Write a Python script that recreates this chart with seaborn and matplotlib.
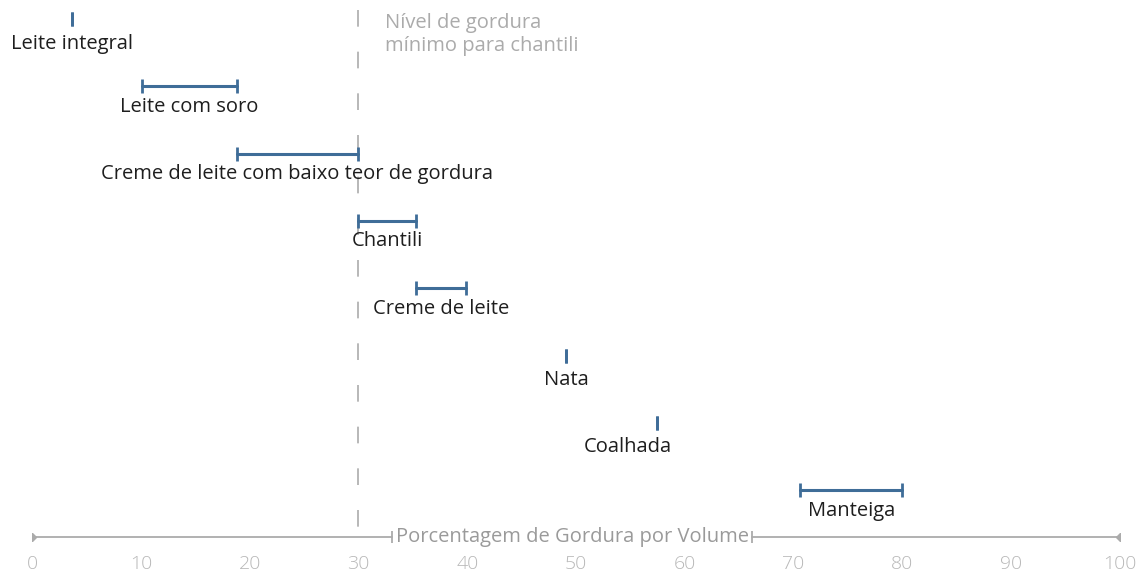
import matplotlib
matplotlib.use("Agg")
import matplotlib.pyplot as plt
import seaborn as sns
import pandas as pd

# Fat content ranges (% by volume) for each dairy product
produtos = [
    "Leite integral",
    "Leite com soro",
    "Creme de leite com baixo teor de gordura",
    "Chantili",
    "Creme de leite",
    "Nata",
    "Coalhada",
    "Manteiga",
]
gordura_min = [3.7, 10.1, 18.8, 30.0, 35.3, 49.1, 57.4, 70.6]
gordura_max = [3.7, 18.8, 30.0, 35.3, 39.9, 49.1, 57.4, 80.0]

limite_chantili = 30
rotulo_limite = "Nível de gordura\nmínimo para chantili"
titulo_eixo = "Porcentagem de Gordura por Volume"
ticks_x = [0, 10, 20, 30, 40, 50, 60, 70, 80, 90, 100]

AZUL = "#3f6d98"
CINZA = "#ababab"
TEXTO = "#1e1e1e"

sns.set_theme(style="white")
plt.rcParams["font.family"] = ["Open Sans", "DejaVu Sans"]
plt.rcParams["lines.scale_dashes"] = False

linhas = []
for i, (nome, lo, hi) in enumerate(zip(produtos, gordura_min, gordura_max)):
    linhas.append({"produto": nome, "linha": i, "gordura": lo})
    linhas.append({"produto": nome, "linha": i, "gordura": hi})
df = pd.DataFrame(linhas)

fig = plt.figure(figsize=(11.4, 5.76), dpi=100)
ax = fig.add_axes([32 / 1140, 0, 1088 / 1140, 1])

# range bars with end caps
sns.lineplot(
    data=df, x="gordura", y="linha", units="produto", estimator=None,
    sort=False, color=AZUL, linewidth=2.2, marker="|", markersize=10,
    markeredgewidth=2.0, markeredgecolor=AZUL, ax=ax, legend=False,
)

ax.set_xlim(0, 100)
passo = 67.3
topo = -19 / passo
ax.set_ylim(topo + 576 / passo, topo)
y_eixo = topo + 537 / passo

# product labels beneath each range
for i, (nome, lo, hi) in enumerate(zip(produtos, gordura_min, gordura_max)):
    cx = (lo + hi) / 2
    if nome == "Coalhada":
        cx -= 2.6
    desloc = -10.5 if lo == hi else -7.5
    ax.annotate(nome, xy=(cx, i), xytext=(0, desloc), textcoords="offset points",
                ha="center", va="top", fontsize=14.5, color=TEXTO)

# minimum fat threshold for whipping
ax.plot([limite_chantili, limite_chantili], [topo + 10 / passo, y_eixo],
        color=CINZA, linewidth=1.2, linestyle=(0, (12, 18)), zorder=0)
ax.text(limite_chantili + 2.45, topo + 13 / passo, rotulo_limite, ha="left",
        va="top", fontsize=14.5, color=CINZA, linespacing=1.2)

# custom axis line with a gap for its title
gap_lo, gap_hi = 33.1, 66.2
ax.plot([0, gap_lo], [y_eixo, y_eixo], color=CINZA, linewidth=1.3)
ax.plot([gap_hi, 100], [y_eixo, y_eixo], color=CINZA, linewidth=1.3)
ax.plot([0, 100], [y_eixo, y_eixo], linestyle="none", marker="D", markersize=4.5,
        color=CINZA)
ax.plot([gap_lo, gap_hi], [y_eixo, y_eixo], linestyle="none", marker="|",
        markersize=9, markeredgewidth=1.3, color=CINZA)
ax.text((gap_lo + gap_hi) / 2, y_eixo, titulo_eixo, ha="center", va="center",
        fontsize=14.5, color="#9a9a9a")

for t in ticks_x:
    ax.text(t, topo + 564 / passo, str(t), ha="center", va="center",
            fontsize=14, color="#b8b8b8", fontweight="light")

ax.set_xticks([])
ax.set_yticks([])
ax.set_xlabel("")
ax.set_ylabel("")
for s in ax.spines.values():
    s.set_visible(False)
ax.patch.set_alpha(0)

fig.savefig("out.png", dpi=100, facecolor="white")
